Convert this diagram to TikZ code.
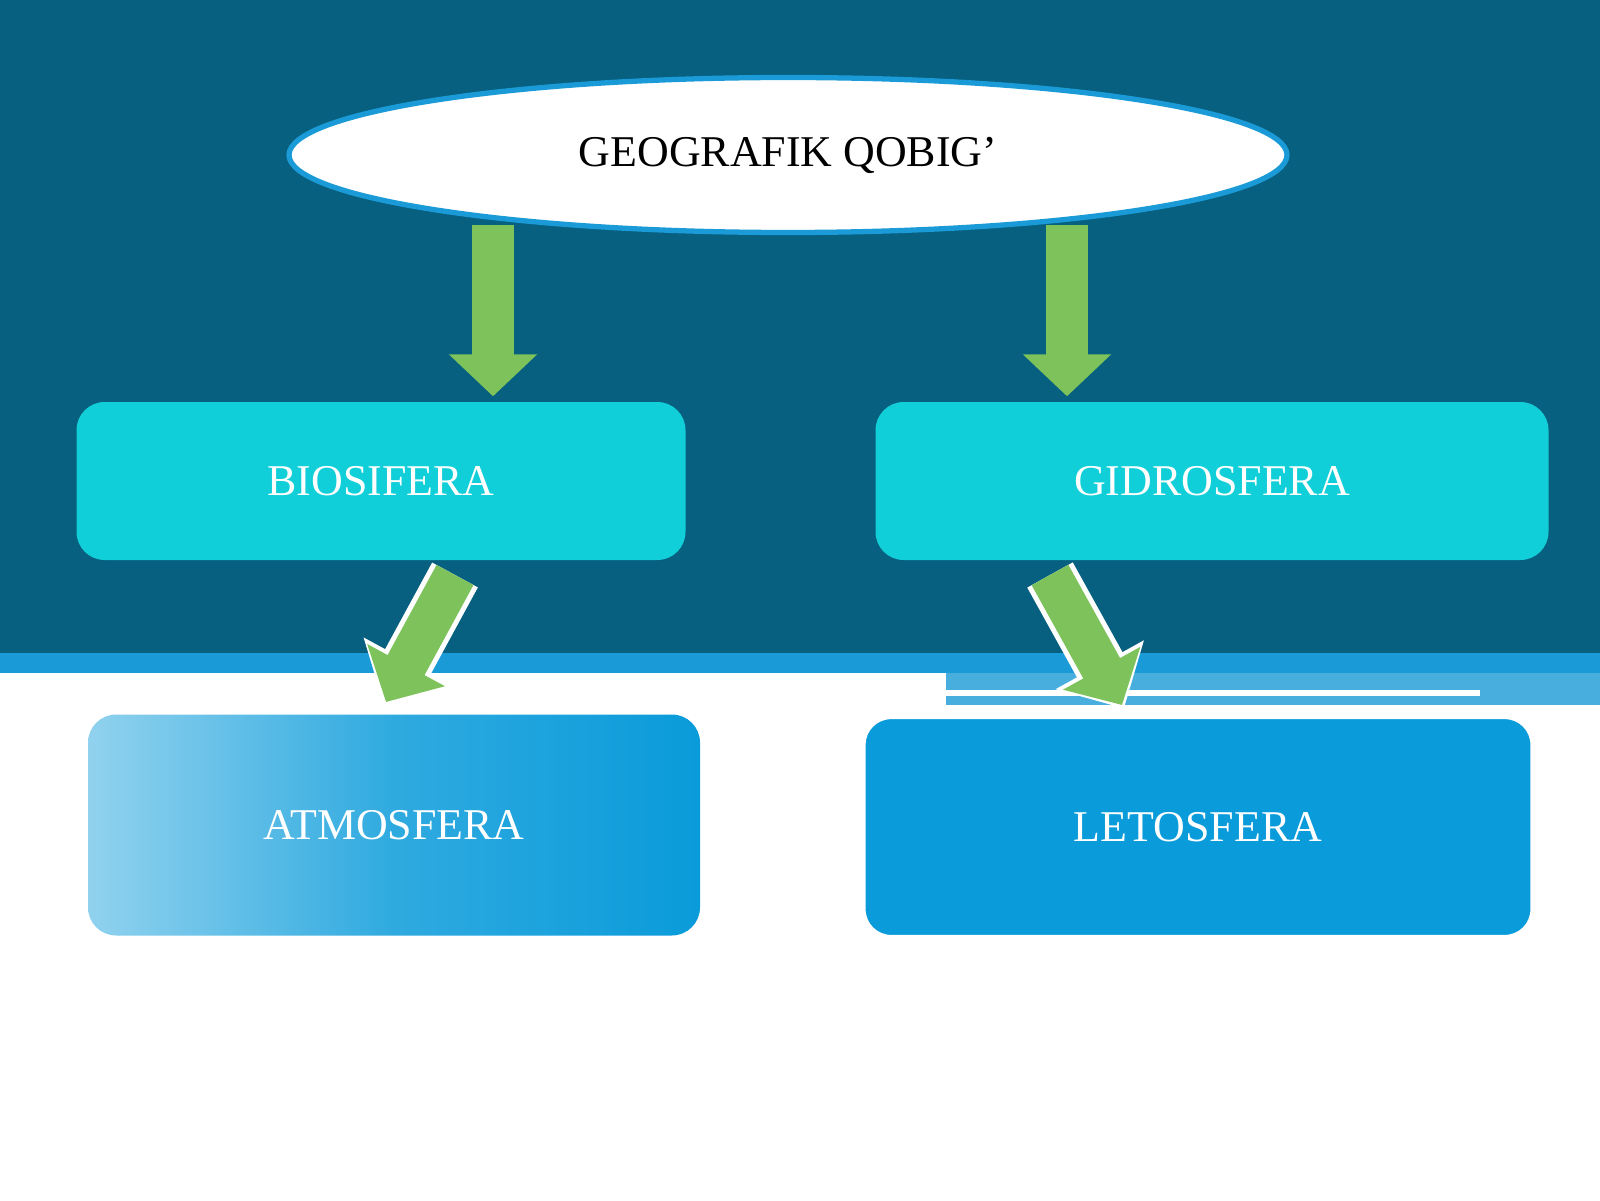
\documentclass[tikz,border=0pt]{standalone}
\usepackage{fontspec}
\setmainfont{Liberation Serif}
\usetikzlibrary{arrows.meta, positioning, shapes.geometric}
\definecolor{deep}{HTML}{07607F}
\definecolor{stripe}{HTML}{1A9AD6}
\definecolor{leaf}{HTML}{7DC25A}
\definecolor{aqua}{HTML}{10CFD8}
\definecolor{sky}{HTML}{0A9BDA}
\tikzstyle{box}=[rounded corners=8pt, text=white, font=\fontsize{12.5}{15}\selectfont]
\tikzstyle{fat}=[draw=leaf, line width=0.42cm, -{Triangle[width=0.86cm,length=0.42cm]}]

\begin{document}
\begin{tikzpicture}[x=1cm, y=1cm]
  % background
  \fill[white] (0,0) rectangle (16,12);
  \fill[deep] (0,5.47) rectangle (16,12);
  \fill[stripe] (0,5.27) rectangle (16,5.47);
  \fill[stripe!80] (9.46,4.95) rectangle (16,5.27);
  \draw[white, line width=1.5pt] (9.46,5.07) -- (14.8,5.07);
  % nodes
  \node[ellipse, draw=stripe, fill=white, line width=1.5pt, minimum width=9.98cm, minimum height=1.55cm,
        font=\fontsize{12.5}{15}\selectfont] (geo) at (7.88,10.45) {GEOGRAFIK QOBIG’};
  \node[box, fill=aqua, minimum width=6.09cm, minimum height=1.58cm] (bio) at (3.81,7.19) {BIOSIFERA};
  \node[box, fill=aqua, minimum width=6.73cm, minimum height=1.58cm] (gid) at (12.12,7.19) {GIDROSFERA};
  \node[box, left color=sky!45, right color=sky, middle color=sky!85,
        minimum width=6.12cm, minimum height=2.21cm] (atm) at (3.94,3.75) {ATMOSFERA};
  \node[box, fill=sky, draw=white, line width=1.5pt, minimum width=6.7cm, minimum height=2.21cm] (let) at (11.98,3.73) {LETOSFERA};
  % arrows
  \coordinate (a1) at (4.93,9.75);
  \coordinate (a2) at (10.67,9.75);
  \draw[fat] (a1) -- ([yshift=0.05cm]a1 |- bio.north);
  \draw[fat] (a2) -- ([yshift=0.05cm]a2 |- gid.north);
  \coordinate (b1) at (4.55,6.25);
  \coordinate (b2) at (10.50,6.25);
  \draw[fat, draw=white, line width=0.52cm, -{Triangle[width=0.98cm,length=0.5cm]}, shorten >=-0.04cm] (b1) -- (3.86,4.98);
  \draw[fat] (b1) -- (3.86,4.98);
  \draw[fat, draw=white, line width=0.52cm, -{Triangle[width=0.98cm,length=0.5cm]}, shorten >=-0.04cm] (b2) -- (11.22,4.95);
  \draw[fat] (b2) -- (11.22,4.95);
\end{tikzpicture}
\end{document}
